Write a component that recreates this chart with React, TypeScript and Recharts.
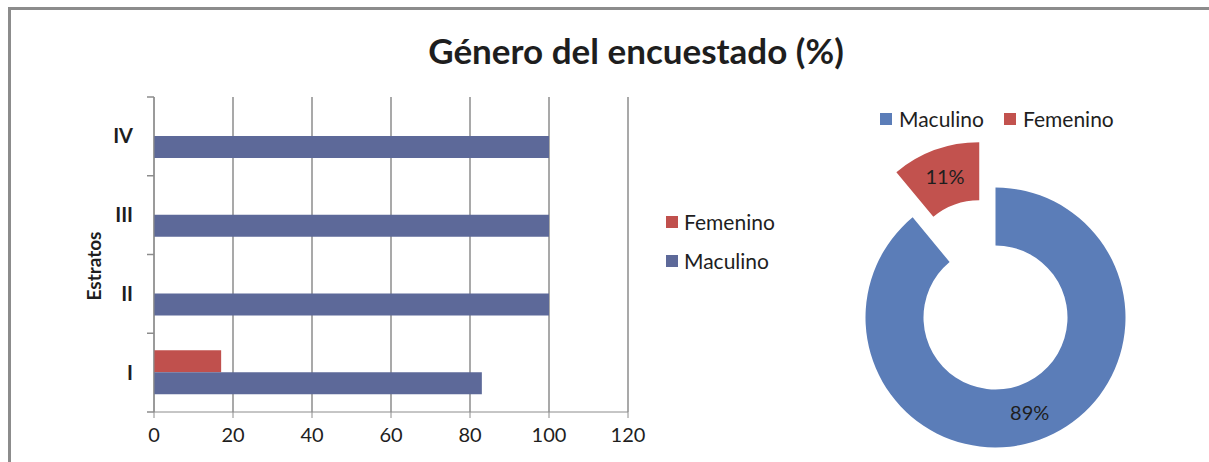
import React from "react";
import { Bar, BarChart, CartesianGrid, Cell, Legend, Pie, PieChart, XAxis, YAxis } from "recharts";

// bar chart: gender by stratum (%)
const estratos = ["IV", "III", "II", "I"];
const femenino = [0, 0, 0, 17];
const maculino = [100, 100, 100, 83];
const xTicks = [0, 20, 40, 60, 80, 100, 120];

// donut: overall gender (%)
const generoNames = ["Maculino", "Femenino"];
const generoValues = [89, 11];

const BLUE_BAR = "#5d6999";
const RED_BAR = "#c0504d";
const BLUE_PIE = "#5b7db8";
const RED_PIE = "#c2524e";
const GRID = "#8c8c8c";
const TEXT = "#1e1e1e";
const FONT = "Lato, 'Open Sans', sans-serif";
const RAD = Math.PI / 180;

const barData = estratos.map((e, i) => ({ estrato: e, Femenino: femenino[i], Maculino: maculino[i] }));
const pieData = generoNames.map((n, i) => ({ name: n, value: generoValues[i] }));

// exploded Femenino slice: push it out along its bisector
const EXPLODE = 48;
const total = generoValues.reduce((a, b) => a + b, 0);
const femMid = 90 - (360 * (generoValues[0] + generoValues[1] / 2)) / total;
const PIE_CX = 165.5;
const PIE_CY = 227.5;
const femCx = PIE_CX + EXPLODE * Math.cos(femMid * RAD);
const femCy = PIE_CY - EXPLODE * Math.sin(femMid * RAD);

function EstratoTick(props: any) {
  const { x, y, payload, index, visibleTicksCount } = props;
  const half = payload?.offset || 39.4;
  const ax = x + 21;
  return (
    <g>
      <line x1={ax - 7} x2={ax} y1={y - half} y2={y - half} stroke={GRID} strokeWidth={1.5} />
      {index === visibleTicksCount - 1 && (
        <line x1={ax - 7} x2={ax} y1={y + half} y2={y + half} stroke={GRID} strokeWidth={1.5} />
      )}
      <text x={x} y={y} dy="0.35em" textAnchor="end" fill={TEXT} fontSize={20} fontWeight={700} fontFamily={FONT}>
        {payload.value}
      </text>
    </g>
  );
}

function SideLegend(props: any) {
  const items = (props.payload || []).map((p: any) => ({ name: p.value, color: p.color }));
  return (
    <div style={{ fontFamily: FONT, fontSize: 21, color: TEXT }}>
      {items.map((it: any) => (
        <div key={it.name} style={{ display: "flex", alignItems: "center", height: 39 }}>
          <span style={{ width: 12, height: 12, background: it.color, marginRight: 6 }} />
          <span>{it.name}</span>
        </div>
      ))}
    </div>
  );
}

function PieLegend() {
  const colors = [BLUE_PIE, RED_PIE];
  return (
    <div style={{ display: "flex", alignItems: "center", fontFamily: FONT, fontSize: 21, color: TEXT }}>
      {generoNames.map((n, i) => (
        <div key={n} style={{ display: "flex", alignItems: "center", marginRight: 20 }}>
          <span style={{ width: 12, height: 12, background: colors[i], marginRight: 7 }} />
          <span>{n}</span>
        </div>
      ))}
    </div>
  );
}

function pctLabel(showIndex: number) {
  return (props: any) => {
    const { cx, cy, midAngle, innerRadius, outerRadius, percent, index } = props;
    if (index !== showIndex) return null;
    const r = (innerRadius + outerRadius) / 2;
    const x = cx + r * Math.cos(-midAngle * RAD);
    const y = cy + r * Math.sin(-midAngle * RAD);
    return (
      <text x={x} y={y} dy="0.35em" textAnchor="middle" fill={TEXT} fontSize={20} fontFamily={FONT}>
        {`${Math.round(percent * 100)}%`}
      </text>
    );
  };
}

export default function App() {
  return (
    <div style={{ position: "absolute", left: 0, top: 0, width: 1209, height: 462, background: "#fff", overflow: "hidden", fontFamily: FONT }}>
      <div style={{ position: "absolute", left: 8, top: 7, right: 0, bottom: -10, borderTop: `3px solid ${GRID}`, borderLeft: `3px solid ${GRID}` }} />
      <div style={{ position: "absolute", left: 336, width: 600, top: 29, textAlign: "center", fontSize: 35, fontWeight: 700, color: TEXT }}>
        Género del encuestado (%)
      </div>
      <div
        style={{ position: "absolute", left: 93, top: 266, transform: "translate(-50%, -50%) rotate(-90deg)", fontSize: 19, fontWeight: 700, color: TEXT, whiteSpace: "nowrap" }}
      >
        Estratos
      </div>

      <div style={{ position: "absolute", left: 0, top: 0 }}>
        <BarChart width={820} height={462} data={barData} layout="vertical" barGap={0} margin={{ top: 97, right: 192, bottom: 10, left: 94 }}>
          <CartesianGrid horizontal={false} stroke={GRID} strokeWidth={1.5} />
          <XAxis
            type="number"
            domain={[0, 120]}
            ticks={xTicks}
            height={40}
            tickSize={6}
            tickMargin={10}
            stroke={GRID}
            tick={{ fill: TEXT, fontSize: 20, fontFamily: FONT }}
          />
          <YAxis type="category" dataKey="estrato" width={60} tickSize={7} tickMargin={14} tickLine={false} stroke={GRID} tick={<EstratoTick />} />
          <Legend layout="vertical" align="center" verticalAlign="middle" wrapperStyle={{ left: 666, top: 202, width: 160 }} content={<SideLegend />} />
          <Bar dataKey="Femenino" fill={RED_BAR} barSize={22} isAnimationActive={false} />
          <Bar dataKey="Maculino" fill={BLUE_BAR} barSize={22} isAnimationActive={false} />
        </BarChart>
      </div>

      <div style={{ position: "absolute", left: 830, top: 90 }}>
        <PieChart width={379} height={372} margin={{ top: 0, right: 0, bottom: 0, left: 0 }}>
          <Pie
            data={pieData}
            dataKey="value"
            nameKey="name"
            cx={PIE_CX}
            cy={PIE_CY}
            innerRadius={72}
            outerRadius={130}
            startAngle={90}
            endAngle={-270}
            stroke="none"
            label={pctLabel(0)}
            labelLine={false}
            isAnimationActive={false}
          >
            <Cell fill={BLUE_PIE} />
            <Cell fill="transparent" />
          </Pie>
          <Pie
            data={pieData}
            dataKey="value"
            nameKey="name"
            cx={femCx}
            cy={femCy}
            innerRadius={72}
            outerRadius={130}
            startAngle={90}
            endAngle={-270}
            stroke="none"
            label={pctLabel(1)}
            labelLine={false}
            isAnimationActive={false}
          >
            <Cell fill="transparent" />
            <Cell fill={RED_PIE} />
          </Pie>
          <Legend layout="horizontal" verticalAlign="middle" align="center" wrapperStyle={{ left: 50, top: 16, width: 320 }} content={<PieLegend />} />
        </PieChart>
      </div>
    </div>
  );
}
